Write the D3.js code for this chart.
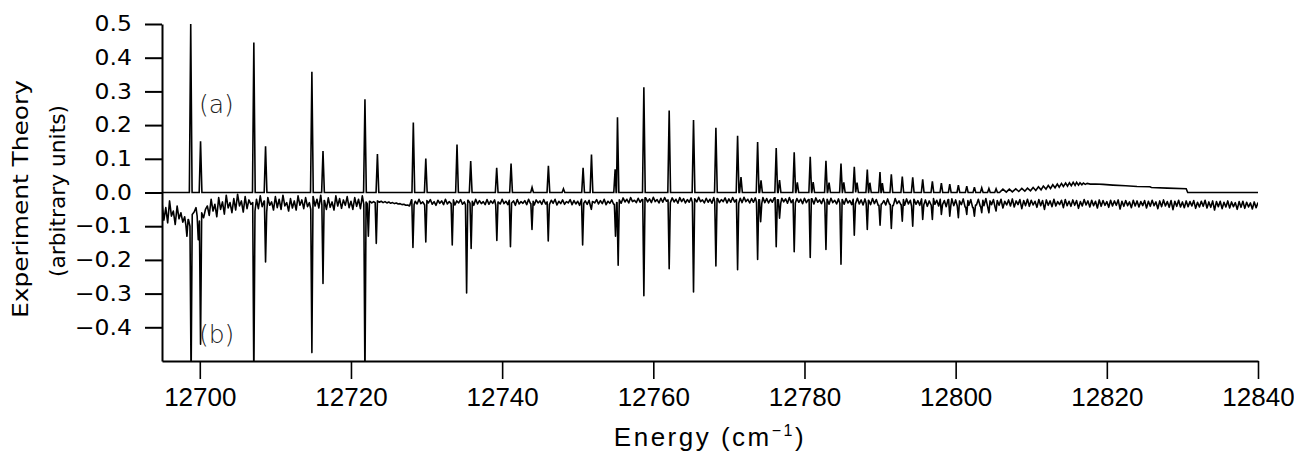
<!DOCTYPE html>
<html>
<head>
<meta charset="utf-8">
<script src="https://cdn.jsdelivr.net/npm/d3@7"></script>
<style>
  body { margin: 0; background: #fff; }
  svg { display: block; }
</style>
</head>
<body>
<div id="chart"></div>
<script>
// Theory (a): main lines, energy in cm-1 and height
const theoryPos = [12698.8, 12700.1, 12707.15, 12708.7, 12714.83, 12716.3, 12721.85, 12723.5,
  12728.25, 12729.9, 12734.03, 12735.84, 12739.28, 12741.18, 12743.96, 12746.12, 12748.11,
  12750.71, 12751.82, 12755.26, 12758.75, 12762.1, 12765.32, 12768.28, 12771.15, 12773.8,
  12776.26, 12778.64, 12780.76, 12782.84, 12784.83, 12786.59, 12788.31, 12789.99, 12791.49,
  12792.94, 12794.32, 12795.64, 12796.92, 12798.11, 12799.22, 12800.36, 12801.47, 12802.48,
  12803.45, 12804.4, 12805.35];
const theoryHeight = [0.50, 0.152, 0.445, 0.137, 0.358, 0.123, 0.277, 0.114,
  0.208, 0.101, 0.142, 0.093, 0.073, 0.086, 0.015, 0.079, 0.011,
  0.073, 0.113, 0.223, 0.312, 0.243, 0.215, 0.192, 0.168, 0.150,
  0.132, 0.119, 0.106, 0.094, 0.086, 0.076, 0.068, 0.061, 0.054,
  0.047, 0.045, 0.039, 0.033, 0.028, 0.025, 0.022, 0.019, 0.016,
  0.014, 0.012, 0.011];

// small satellite lines next to the main ones
const shoulderPos = [12754.95, 12771.6, 12774.25, 12776.7, 12779.05, 12781.15, 12783.25,
  12785.2, 12786.95, 12788.65, 12790.3];
const shoulderHeight = [0.069, 0.046, 0.036, 0.037, 0.030, 0.031, 0.029,
  0.030, 0.029, 0.029, 0.028];

// band head of the theory trace (lines too close to separate)
const bandHeadPos = [12805.8, 12806.25, 12806.7, 12807.1, 12807.5, 12807.95, 12808.35, 12808.75,
  12809.15, 12809.5, 12809.9, 12810.25, 12810.6, 12810.95, 12811.3, 12811.6, 12811.95, 12812.25,
  12812.55, 12812.85, 12813.15, 12813.45, 12813.7, 12814.0, 12814.25, 12814.55, 12814.8, 12815.05,
  12815.3, 12815.55, 12815.8, 12816.0, 12816.25, 12816.45, 12816.7, 12816.9, 12817.15, 12817.4,
  12817.8, 12818.5, 12819.5, 12820.8, 12822.5, 12824.0, 12825.7, 12825.9, 12828.0, 12830.5,
  12830.7, 12840.0];
const bandHeadVal = [0.0, 0.010, 0.001, 0.010, 0.002, 0.011, 0.003, 0.012,
  0.004, 0.013, 0.005, 0.015, 0.006, 0.017, 0.008, 0.019, 0.010, 0.021,
  0.012, 0.023, 0.014, 0.025, 0.016, 0.027, 0.018, 0.028, 0.019, 0.029,
  0.020, 0.030, 0.021, 0.030, 0.022, 0.029, 0.023, 0.028, 0.024, 0.027,
  0.025, 0.025, 0.024, 0.022, 0.020, 0.018, 0.017, 0.015, 0.013, 0.011,
  0.0, 0.0];

// Experiment (b): absorption dips, energy and depth (-0.56 = off scale)
const dipPos = [12698.3, 12698.85, 12699.8, 12700.1, 12707.15, 12708.7, 12714.83, 12716.3,
  12721.85, 12722.3, 12723.35, 12728.2, 12729.9, 12733.4, 12735.3, 12735.9, 12739.3, 12741.1,
  12743.95, 12746.1, 12750.65, 12751.8, 12755.0, 12755.35, 12758.75, 12762.1, 12765.32,
  12768.28, 12771.15, 12773.8, 12774.2, 12776.26, 12776.7, 12778.64, 12780.76, 12782.84,
  12784.83, 12786.59, 12788.31, 12790.0, 12791.49, 12792.94, 12794.32, 12795.64, 12796.92,
  12798.11, 12799.22, 12800.36, 12801.47, 12802.48, 12803.45, 12804.4, 12805.35];
const dipDepth = [-0.13, -0.56, -0.14, -0.45, -0.56, -0.206, -0.475, -0.27,
  -0.56, -0.13, -0.151, -0.163, -0.147, -0.156, -0.298, -0.166, -0.142, -0.161,
  -0.11, -0.144, -0.156, -0.05, -0.13, -0.216, -0.306, -0.226, -0.295,
  -0.218, -0.229, -0.199, -0.087, -0.161, -0.076, -0.176, -0.193, -0.169,
  -0.213, -0.127, -0.11, -0.097, -0.107, -0.085, -0.10, -0.08, -0.08,
  -0.065, -0.07, -0.075, -0.065, -0.07, -0.06, -0.06, -0.055];

// Experiment baseline (noise included), read every 0.25 cm-1 starting at 12695
const expStart = 12695;
const expStep = 0.25;
const expBaseline = [
  // 12695 - 12698
  -.030, -.082, -.045, -.090, -.025, -.070, -.055, -.095, -.040, -.078, -.060, -.088,
  // 12698 - 12701
  -.072, -.095, -.080, -.100, -.065, -.058, -.045, -.070, -.085, -.060, -.075, -.050,
  // 12701 - 12707
  -.040, -.068, -.020, -.055, -.035, -.072, -.015, -.050, -.028, -.064, -.008, -.046,
  -.030, -.060, -.018, -.052, -.005, -.040, -.025, -.058, -.012, -.048, -.022, -.035,
  // 12707 - 12712
  -.030, -.055, -.020, -.048, -.010, -.042, -.025, -.058, -.015, -.038, -.028, -.052, -.012, -.045, -.020, -.050, -.008, -.040, -.030, -.055,
  // 12712 - 12722
  -.018, -.046, -.025, -.052, -.010, -.038, -.022, -.048, -.015, -.042, -.030, -.050, -.012, -.040, -.020, -.046, -.008, -.036, -.024, -.050,
  -.016, -.044, -.028, -.052, -.010, -.040, -.018, -.047, -.022, -.038, -.012, -.045, -.026, -.050, -.015, -.041, -.020, -.048, -.010, -.035,
  // 12722 - 12728
  -.028, -.033, -.026, -.031, -.027, -.030, -.025, -.029, -.026, -.030, -.027, -.031,
  -.028, -.032, -.030, -.033, -.031, -.034, -.033, -.036, -.035, -.038, -.037, -.040,
  // 12728 - 12755
  -.022, -.036, -.026, -.034, -.020, -.033, -.028, -.037, -.024, -.031, -.021, -.035, -.027, -.038, -.023, -.032, -.025, -.036, -.020, -.034,
  -.027, -.033, -.022, -.037, -.025, -.031, -.021, -.035, -.028, -.036, -.023, -.032, -.026, -.038, -.020, -.034, -.024, -.033, -.027, -.036,
  -.021, -.035, -.025, -.032, -.022, -.037, -.028, -.034, -.020, -.033, -.026, -.036, -.023, -.031, -.025, -.038, -.021, -.034, -.027, -.032,
  -.024, -.036, -.020, -.033, -.026, -.037, -.022, -.031, -.025, -.035, -.021, -.034, -.028, -.036, -.023, -.032, -.020, -.037, -.026, -.033,
  -.022, -.035, -.027, -.031, -.021, -.036, -.024, -.034, -.026, -.038, -.020, -.032, -.025, -.035, -.023, -.037, -.027, -.031, -.021, -.034,
  -.024, -.033, -.020, -.036, -.026, -.032, -.022, -.035,
  // 12755 - 12800
  -.018, -.030, -.022, -.032, -.016, -.028, -.020, -.031, -.015, -.027, -.023, -.030, -.017, -.029, -.021, -.032, -.016, -.028, -.019, -.030,
  -.014, -.027, -.021, -.031, -.017, -.029, -.015, -.026, -.022, -.030, -.016, -.028, -.020, -.032, -.015, -.027, -.018, -.031, -.021, -.029,
  -.016, -.030, -.019, -.028, -.014, -.027, -.022, -.031, -.017, -.029, -.020, -.032, -.015, -.028, -.018, -.030, -.021, -.027, -.016, -.031,
  -.019, -.029, -.015, -.028, -.021, -.032, -.017, -.030, -.014, -.027, -.020, -.031, -.018, -.029, -.016, -.028, -.022, -.032, -.015, -.030,
  -.018, -.031, -.020, -.029, -.016, -.030, -.022, -.033, -.017, -.028, -.019, -.032, -.015, -.030, -.021, -.031, -.018, -.029, -.020, -.033,
  -.017, -.030, -.021, -.032, -.019, -.034, -.016, -.029, -.022, -.033, -.018, -.031, -.020, -.035, -.017, -.030, -.023, -.034, -.019, -.032,
  -.021, -.035, -.018, -.031, -.024, -.036, -.020, -.033, -.017, -.034, -.022, -.037, -.019, -.032, -.023, -.036, -.018, -.033, -.021, -.038,
  -.020, -.034, -.024, -.037, -.019, -.035, -.022, -.039, -.018, -.033, -.025, -.036, -.021, -.038, -.019, -.034, -.023, -.040, -.020, -.035,
  -.024, -.038, -.019, -.036, -.022, -.041, -.025, -.037, -.018, -.035, -.023, -.040, -.020, -.036, -.024, -.042, -.021, -.037, -.019, -.039,
  // 12800 - 12840
  -.022, -.040, -.025, -.036, -.019, -.043, -.024, -.038, -.021, -.045, -.026, -.037, -.020, -.041, -.023, -.039, -.018, -.044, -.025, -.036,
  -.021, -.042, -.024, -.038, -.020, -.046, -.026, -.037, -.022, -.040, -.019, -.043, -.025, -.036, -.021, -.048, -.024, -.039, -.020, -.041,
  -.023, -.037, -.026, -.044, -.021, -.039, -.024, -.050, -.022, -.038, -.025, -.042, -.020, -.040, -.027, -.036, -.023, -.045, -.021, -.039,
  -.026, -.041, -.022, -.038, -.024, -.047, -.027, -.040, -.021, -.037, -.025, -.043, -.023, -.039, -.026, -.046, -.022, -.041, -.024, -.038,
  -.027, -.044, -.023, -.040, -.025, -.038, -.022, -.049, -.026, -.041, -.024, -.039, -.028, -.045, -.023, -.040, -.025, -.043, -.027, -.039,
  -.024, -.046, -.026, -.041, -.023, -.039, -.028, -.048, -.025, -.042, -.022, -.040, -.027, -.044, -.024, -.051, -.026, -.041, -.023, -.043,
  -.028, -.045, -.025, -.042, -.027, -.040, -.024, -.047, -.029, -.043, -.026, -.041, -.023, -.046, -.028, -.044, -.025, -.052, -.027, -.042,
  -.026, -.048, -.029, -.043, -.025, -.046, -.028, -.042, -.030, -.050, -.027, -.044, -.026, -.047, -.029, -.043, -.031, -.049, -.028, -.045,
  -.030
];

const xTicks = [12700, 12720, 12740, 12760, 12780, 12800, 12820, 12840];
const yTicks = [-0.4, -0.3, -0.2, -0.1, 0.0, 0.1, 0.2, 0.3, 0.4, 0.5];

function init() {
  const width = 1294, height = 452;
  const left = 162, right = 1258, top = 24, bottom = 361;

  const svg = d3.select("#chart")
    .append("svg")
      .attr("width", width)
      .attr("height", height)
      .style("background", "#fff");

  const x = d3.scaleLinear().domain([12695, 12840]).range([left, right]);
  const y = d3.scaleLinear().domain([-0.5, 0.5]).range([bottom, top]);

  svg.append("clipPath").attr("id", "plot-clip")
    .append("rect")
      .attr("x", left).attr("y", 0)
      .attr("width", right - left).attr("height", bottom);

  // half width of a drawn line, in cm-1
  const hw = 0.18;
  const dipHw = 0.15;

  // theory trace: every line is a narrow spike on a zero baseline
  const sticks = theoryPos.map((p, i) => [p, theoryHeight[i]])
    .concat(shoulderPos.map((p, i) => [p, shoulderHeight[i]]))
    .sort((a, b) => a[0] - b[0]);
  let theoryPts = [[12695, 0]];
  sticks.forEach(([p, h]) => {
    theoryPts.push([p - hw, 0], [p, h], [p + hw, 0]);
  });
  bandHeadPos.forEach((p, i) => theoryPts.push([p, bandHeadVal[i]]));
  theoryPts.sort((a, b) => a[0] - b[0]);

  // experiment trace: baseline samples plus the dips
  const baseAt = v => expBaseline[Math.max(0, Math.min(expBaseline.length - 1,
    Math.round((v - expStart) / expStep)))];
  let expPts = expBaseline
    .map((b, i) => [expStart + i * expStep, b])
    .filter(d => !dipPos.some(p => Math.abs(d[0] - p) < dipHw));
  dipPos.forEach((p, i) => {
    expPts.push([p - dipHw, baseAt(p - dipHw)], [p, dipDepth[i]], [p + dipHw, baseAt(p + dipHw)]);
  });
  expPts.sort((a, b) => a[0] - b[0]);

  const line = d3.line()
    .x(d => x(d[0]))
    .y(d => y(d[1]));

  const plot = svg.append("g").attr("clip-path", "url(#plot-clip)");

  plot.append("path")
    .datum(expPts)
    .attr("fill", "none")
    .attr("stroke", "#000")
    .attr("stroke-width", 1.6)
    .attr("stroke-linejoin", "round")
    .attr("d", line);

  plot.append("path")
    .datum(theoryPts)
    .attr("fill", "none")
    .attr("stroke", "#000")
    .attr("stroke-width", 1.6)
    .attr("d", line);

  // x axis
  const xAxis = svg.append("g")
    .attr("transform", `translate(0,${bottom})`)
    .call(d3.axisBottom(x).tickValues(xTicks).tickSize(18).tickPadding(9)
      .tickSizeOuter(0).tickFormat(d3.format("d")));
  xAxis.select(".domain").attr("stroke", "#000").attr("stroke-width", 2);
  xAxis.selectAll(".tick line").attr("stroke", "#000").attr("stroke-width", 1.6);
  xAxis.selectAll(".tick text")
    .attr("fill", "#000")
    .attr("font-family", "'Liberation Sans', Arial, sans-serif")
    .attr("font-size", 26);

  // y axis
  const sx = 1.12;
  const yAxis = svg.append("g")
    .attr("transform", `translate(${left},0)`)
    .call(d3.axisLeft(y).tickValues(yTicks).tickSize(17).tickPadding(13)
      .tickSizeOuter(0).tickFormat(d3.format(".1f")));
  yAxis.select(".domain").attr("stroke", "#000").attr("stroke-width", 2);
  yAxis.selectAll(".tick line").attr("stroke", "#000").attr("stroke-width", 2);
  yAxis.selectAll(".tick text")
    .attr("fill", "#000")
    .attr("font-family", "'DejaVu Sans', sans-serif")
    .attr("font-size", 21)
    .attr("x", -30 / sx)
    .attr("transform", `scale(${sx},1)`);

  // axis titles
  svg.append("text")
    .attr("transform", "translate(28,199) rotate(-90)")
    .attr("text-anchor", "middle")
    .attr("font-family", "'DejaVu Sans', sans-serif")
    .attr("font-size", 22)
    .attr("textLength", 238)
    .attr("lengthAdjust", "spacingAndGlyphs")
    .text("Experiment Theory");

  svg.append("text")
    .attr("transform", "translate(65,191) rotate(-90)")
    .attr("text-anchor", "middle")
    .attr("font-family", "'DejaVu Sans', sans-serif")
    .attr("font-size", 22)
    .attr("textLength", 172)
    .attr("lengthAdjust", "spacingAndGlyphs")
    .text("(arbitrary units)");

  const xTitle = svg.append("text")
    .attr("x", (left + right) / 2)
    .attr("y", 446)
    .attr("text-anchor", "middle")
    .attr("font-family", "'Liberation Sans', Arial, sans-serif")
    .attr("font-size", 26)
    .attr("letter-spacing", 2.5);
  xTitle.append("tspan").text("Energy (cm");
  xTitle.append("tspan").attr("dy", -10).attr("font-size", 16).text("\u22121");
  xTitle.append("tspan").attr("dy", 10).text(")");

  // trace labels
  svg.append("text")
    .attr("x", 199).attr("y", 113)
    .attr("font-family", "'DejaVu Sans', sans-serif")
    .attr("font-weight", 200)
    .attr("font-size", 25)
    .attr("fill", "#222")
    .text("(a)");
  svg.append("text")
    .attr("x", 199).attr("y", 343)
    .attr("font-family", "'DejaVu Sans', sans-serif")
    .attr("font-weight", 200)
    .attr("font-size", 25)
    .attr("fill", "#222")
    .text("(b)");
}

window.onload = init;
</script>
</body>
</html>
